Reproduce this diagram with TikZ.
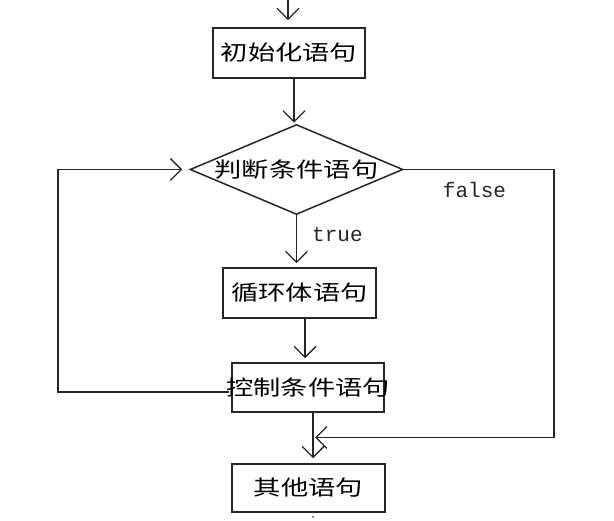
\documentclass[tikz,border=0pt]{standalone}
\usepackage{fontspec}
\setmonofont{Liberation Mono}
\newfontfamily\cjk{Noto Sans CJK SC}
\usetikzlibrary{arrows.meta,shapes.geometric}
\newcommand{\zh}[1]{\makebox[0pt][c]{\scalebox{1.3}[1]{\cjk\fontsize{21pt}{25pt}\selectfont #1}}}
\tikzset{
  ln/.style={line width=1.5pt, draw=black!85},
  arr/.style={ln, -{Straight Barb[length=11pt,width=22pt,line width=1.3pt]}},
  box/.style={ln, rectangle, inner sep=0pt, fill=white},
  dia/.style={ln, diamond, inner sep=0pt, minimum width=213pt, minimum height=90pt, fill=white},
  lbl/.style={font=\ttfamily\fontsize{21pt}{25pt}\selectfont, inner sep=0pt, text=black!85}
}
\begin{document}
\begin{tikzpicture}[x=1pt,y=-1pt]
\useasboundingbox[fill=white] (0,0) rectangle (614,521);
% nodes
\node[box, minimum width=152pt, minimum height=50pt] (b1) at (289,53) {\zh{初始化语句}};
\node[dia] (d) at (296.5,169.5) {\zh{判断条件语句}};
\node[box, minimum width=153pt, minimum height=50pt] (b2) at (299.5,293) {\zh{循环体语句}};
\node[box, minimum width=152pt, minimum height=49pt] (b3) at (308,387.5) {\zh{控制条件语句}};
\node[box, minimum width=153pt, minimum height=48pt] (b4) at (308.5,488) {\zh{其他语句}};
\node[lbl, anchor=west] (t) at (312,235) {true};
\node[lbl] (f) at (474.5,190) {false};
% coordinates
\coordinate (start) at (288,-6);
\coordinate (lc) at (58,169.5);
\coordinate (rc) at (554,169.5);
\coordinate (mt) at (315,437.5);
% connectors
\draw[arr, shorten >=7pt] (start) -- (start |- b1.north);
\draw[arr, shorten >=1pt] ([xshift=5pt]b1.south) -- ([xshift=5pt]b1.south |- d.north);
\draw[arr, shorten >=4pt] (d.south) -- (d.south |- b2.north);
\draw[arr, shorten >=4pt] ([xshift=5.5pt]b2.south) -- ([xshift=5.5pt]b2.south |- b3.north);
\draw[arr, shorten >=5pt] ([xshift=5pt]b3.south) -- ([xshift=5pt]b3.south |- b4.north);
\draw[arr, shorten >=7pt] ([yshift=-4.5pt,xshift=-2pt]b3.west) -| (lc) -- (d.west);
\draw[arr] (d.east) -- (rc) |- (mt);
\fill[black!70] (313,517) circle (1pt);
\end{tikzpicture}
\end{document}
